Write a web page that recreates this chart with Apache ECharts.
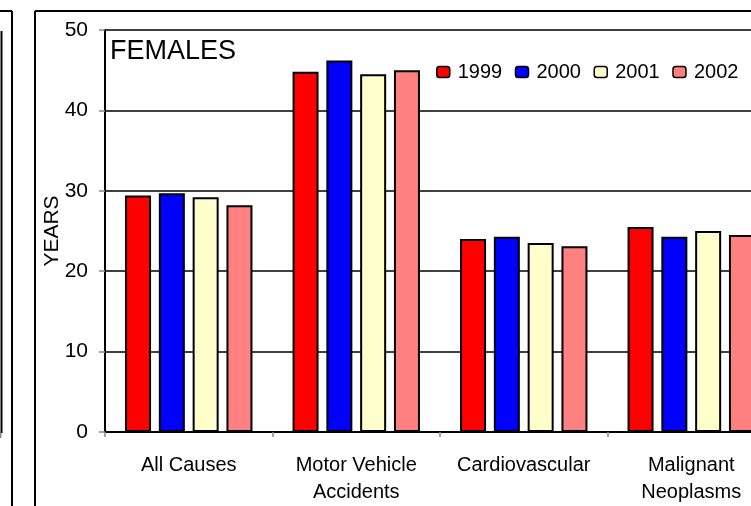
<!DOCTYPE html>
<html>
<head>
<meta charset="utf-8">
<script src="https://cdn.jsdelivr.net/npm/echarts@6/dist/echarts.min.js"></script>
<style>html,body{margin:0;padding:0;background:#fff;overflow:hidden;}#c{width:800px;height:506px;}</style>
</head>
<body>
<div id="c"></div>
<script>
const categories = ['All Causes', 'Motor Vehicle\nAccidents', 'Cardiovascular', 'Malignant\nNeoplasms'];
const years = ['1999', '2000', '2001', '2002'];
const v1999 = [29.4, 44.8, 24.0, 25.5];
const v2000 = [29.7, 46.2, 24.3, 24.3];
const v2001 = [29.2, 44.5, 23.5, 25.0];
const v2002 = [28.2, 45.0, 23.1, 24.5];
const yTicks = [0, 10, 20, 30, 40, 50];

const colors = ['#FF0000', '#0000FF', '#FFFFCC', '#FF8080'];
const values = [v1999, v2000, v2001, v2002];
const font = 'Liberation Sans, Arial, sans-serif';

const chart = echarts.init(document.getElementById('c'), null, {renderer: 'canvas'});
chart.setOption({
  animation: false,
  backgroundColor: '#fff',
  textStyle: {fontFamily: font, color: '#000'},
  grid: {left: 105, top: 30, width: 670, height: 403, containLabel: false},
  legend: {
    data: years,
    left: 431, top: 57,
    itemWidth: 13, itemHeight: 11, itemGap: 12.5,
    textStyle: {fontSize: 20, fontFamily: font, color: '#000', padding: [0, 0, 0, 3]},
    itemStyle: {borderColor: '#000', borderWidth: 1.5}
  },
  xAxis: {
    type: 'category', data: categories,
    axisLine: {lineStyle: {color: '#000', width: 2}},
    axisTick: {show: true, length: 5, lineStyle: {color: '#888', width: 1.5}},
    axisLabel: {fontSize: 20, lineHeight: 27, margin: 20, color: '#000', fontFamily: font, interval: 0}
  },
  yAxis: {
    type: 'value', min: yTicks[0], max: yTicks[yTicks.length - 1], interval: 10,
    name: 'YEARS', nameLocation: 'middle', nameGap: 42, nameRotate: 90,
    nameMoveOverlap: false,
    nameTextStyle: {fontSize: 21, color: '#000', fontFamily: font},
    axisLine: {show: true, lineStyle: {color: '#000', width: 2}},
    axisTick: {show: true, length: 6, lineStyle: {color: '#888', width: 1.5}},
    axisLabel: {fontSize: 21, margin: 17, color: '#000', fontFamily: font},
    splitLine: {show: true, lineStyle: {color: '#000', width: 1.5}}
  },
  series: years.map((y, i) => ({
    name: y, type: 'bar', data: values[i],
    barWidth: 26, barGap: '30%',
    itemStyle: {color: colors[i], borderColor: '#000', borderWidth: 2}
  })),
  graphic: [
    {type: 'text', left: 110, top: 38, style: {text: 'FEMALES', fontSize: 27, fontFamily: font, fill: '#000'}},
    {type: 'line', shape: {x1: 35, y1: 11, x2: 800, y2: 11}, style: {stroke: '#000', lineWidth: 2}},
    {type: 'line', shape: {x1: 35, y1: 11, x2: 35, y2: 506}, style: {stroke: '#000', lineWidth: 2}},
    {type: 'line', shape: {x1: 0, y1: 11, x2: 12, y2: 11}, style: {stroke: '#000', lineWidth: 2}},
    {type: 'line', shape: {x1: 12, y1: 11, x2: 12, y2: 506}, style: {stroke: '#000', lineWidth: 2}},
    {type: 'line', shape: {x1: 1.5, y1: 31, x2: 1.5, y2: 433}, style: {stroke: '#000', lineWidth: 2}},
    {type: 'line', shape: {x1: 0, y1: 433, x2: 0, y2: 438}, style: {stroke: '#888', lineWidth: 3}}
  ]
});
</script>
</body>
</html>
